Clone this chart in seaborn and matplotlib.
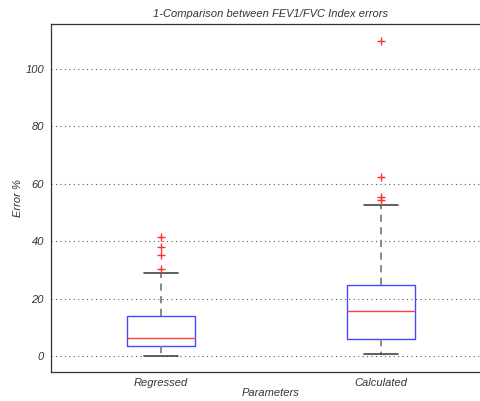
import matplotlib
matplotlib.use("Agg")
import matplotlib.pyplot as plt
import seaborn as sns

sns.set_style("white")
plt.rcParams["font.family"] = ["Liberation Sans", "DejaVu Sans"]

# Summary statistics of the error distributions (percent)
categories = ["Regressed", "Calculated"]
q1 = [3.4, 5.9]
medians = [6.3, 15.8]
q3 = [14.0, 24.7]
whisker_low = [0.0, 0.6]
whisker_high = [28.8, 52.7]
outliers = [
    [30.2, 35.3, 37.9, 41.6],
    [54.4, 55.5, 62.5, 109.9],
]
y_ticks = [0, 20, 40, 60, 80, 100]

stats = []
for i, name in enumerate(categories):
    stats.append(dict(label=name, q1=q1[i], med=medians[i], q3=q3[i],
                      whislo=whisker_low[i], whishi=whisker_high[i],
                      fliers=outliers[i]))

fig = plt.figure(figsize=(4.8, 4.01), dpi=100)
ax = fig.add_axes([51 / 480, 1 - 372 / 401, 440 / 480, 348 / 401])

ax.bxp(stats, positions=[1, 2], widths=0.305, showfliers=True,
       boxprops=dict(color="#4848ff", linewidth=1.0),
       medianprops=dict(color="#ff4040", linewidth=1.0),
       whiskerprops=dict(color="#808080", linewidth=1.3, linestyle=(0, (4, 3))),
       capprops=dict(color="#444444", linewidth=1.2),
       capwidths=0.155,
       flierprops=dict(marker="+", markeredgecolor="#ff3030", markersize=6,
                       markeredgewidth=1.0, linestyle="none"))

ax.set_xlim(0.5, 2.5)
ax.set_ylim(-5.6, 115.7)
ax.set_yticks(y_ticks)
ax.set_yticklabels([str(t) for t in y_ticks])
ax.yaxis.grid(True, linestyle=(0, (1, 3)), color="#555555", linewidth=0.8)
ax.set_axisbelow(True)

txt = "#333333"
ax.tick_params(axis="y", direction="out", length=3, width=0.8, color="#333333",
               labelsize=8, labelcolor=txt, pad=2)
ax.tick_params(axis="x", length=0, labelsize=8, labelcolor=txt, pad=4)
for lab in ax.get_xticklabels() + ax.get_yticklabels():
    lab.set_fontstyle("italic")

for side in ["left", "bottom", "top", "right"]:
    ax.spines[side].set_color("#333333")
    ax.spines[side].set_linewidth(0.9)

ax.set_title("1-Comparison between FEV1/FVC Index errors", fontsize=8,
             fontstyle="italic", color=txt, pad=5)
ax.set_xlabel("Parameters", fontsize=8, fontstyle="italic", color=txt, labelpad=0)
ax.set_ylabel("Error %", fontsize=8, fontstyle="italic", color=txt, labelpad=2)

fig.savefig("out.png", dpi=100)
